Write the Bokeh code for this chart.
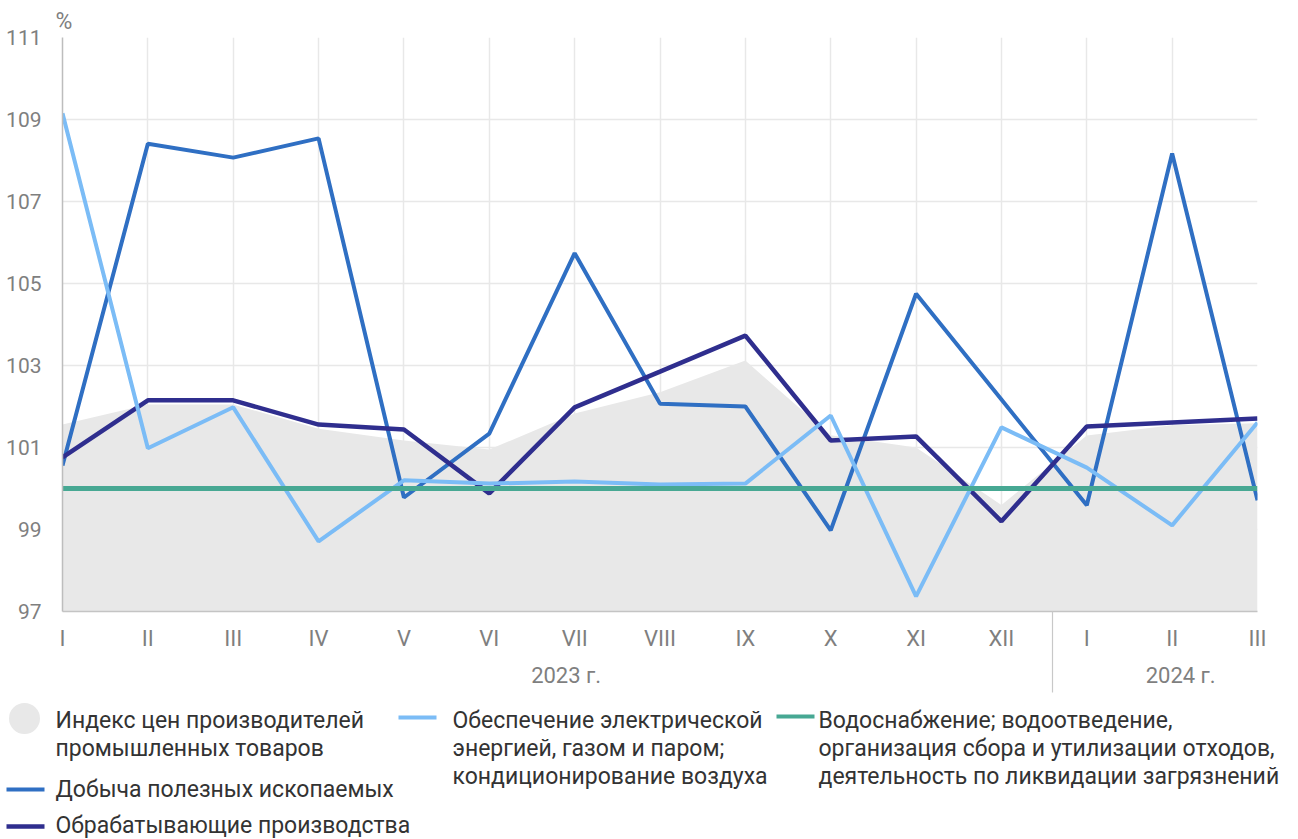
from bokeh.plotting import figure
from bokeh.models import Range1d, FixedTicker, LinearAxis
from bokeh.layouts import column
from bokeh.embed import file_html
from bokeh.resources import INLINE
from bokeh.core.properties import value

# ---------------- data ----------------
months = ["I", "II", "III", "IV", "V", "VI", "VII", "VIII", "IX", "X", "XI", "XII", "I", "II", "III"]
years = ["2023 г.", "2024 г."]
ppi = [101.56, 102.05, 102.05, 101.46, 101.17, 100.95, 101.83, 102.35, 103.12, 101.3, 101.0, 99.6, 101.29, 101.54, 101.59]
mining = [100.56, 108.41, 108.07, 108.54, 99.78, 101.34, 105.74, 102.07, 102.0, 98.98, 104.75, 102.17, 99.59, 108.17, 99.71]
manufacturing = [100.76, 102.15, 102.15, 101.56, 101.44, 99.88, 101.98, 102.85, 103.73, 101.17, 101.27, 99.2, 101.51, 101.61, 101.71]
electricity = [109.15, 100.98, 101.98, 98.71, 100.2, 100.12, 100.17, 100.1, 100.12, 101.78, 97.37, 101.49, 100.51, 99.1, 101.61]
water = [100.0, 100.0, 100.0, 100.0, 100.0, 100.0, 100.0, 100.0, 100.0, 100.0, 100.0, 100.0, 100.0, 100.0, 100.0]
y_ticks = [97, 99, 101, 103, 105, 107, 109, 111]
y_unit = "%"

legend_ppi = ["Индекс цен производителей", "промышленных товаров"]
legend_mining = ["Добыча полезных ископаемых"]
legend_manuf = ["Обрабатывающие производства"]
legend_elec = ["Обеспечение электрической", "энергией, газом и паром;", "кондиционирование воздуха"]
legend_water = ["Водоснабжение; водоотведение,", "организация сбора и утилизации отходов,", "деятельность по ликвидации загрязнений"]

# ---------------- styles ----------------
C_PPI = "#e8e8e8"
C_MIN = "#2f6fc3"
C_MAN = "#2f2e8e"
C_ELE = "#7bbcf6"
C_WAT = "#47a893"
FONT = "Roboto"
TICK_COLOR = "#7f7f7f"
TEXT_COLOR = "#333333"

xs = list(range(len(months)))

p = figure(width=1298, height=700, x_range=Range1d(0, len(months) - 1), y_range=Range1d(97, 111),
           toolbar_location=None, output_backend="svg",
           min_border_left=62, min_border_right=41, min_border_top=37, min_border_bottom=89)
p.frame_align = False
p.outline_line_color = None
p.background_fill_color = "white"

# unit label above the y axis (as title)
p.title.text = y_unit
p.title.align = "left"
p.title.offset = -7
p.title.standoff = 6
p.title.text_font = FONT
p.title.text_font_size = "23px"
p.title.text_font_style = "normal"
p.title.text_color = TICK_COLOR

p.varea(x=xs, y1=[97] * len(xs), y2=ppi, fill_color=C_PPI)
p.line(xs, mining, line_color=C_MIN, line_width=4)
p.line(xs, manufacturing, line_color=C_MAN, line_width=4.5)
p.line(xs, electricity, line_color=C_ELE, line_width=4)
p.line(xs, water, line_color=C_WAT, line_width=5)

# grids
p.xgrid.ticker = FixedTicker(ticks=xs)
p.ygrid.ticker = FixedTicker(ticks=y_ticks)
p.xgrid.grid_line_color = "#e8e8e8"
p.ygrid.grid_line_color = "#e8e8e8"
p.xgrid.grid_line_width = 1.5
p.ygrid.grid_line_width = 1.5
p.xgrid.level = "underlay"
p.ygrid.level = "underlay"

# y axis
ya = p.yaxis[0]
ya.ticker = FixedTicker(ticks=y_ticks)
ya.major_tick_line_color = None
ya.minor_tick_line_color = None
ya.axis_line_color = "#bdbdbd"
ya.axis_line_width = 1.5
ya.major_label_text_font = FONT
ya.major_label_text_font_size = "21px"
ya.major_label_text_color = TICK_COLOR
ya.major_label_standoff = 15

# x axis (months); the minor tick marks the boundary between the years
year_boundary = [11.6]
xa = p.xaxis[0]
xa.ticker = FixedTicker(ticks=xs, minor_ticks=year_boundary)
xa.major_label_overrides = {i: m for i, m in enumerate(months)}
xa.major_tick_line_color = None
xa.major_tick_out = 0
xa.major_tick_in = 0
xa.minor_tick_line_color = "#c8c8c8"
xa.minor_tick_line_width = 1.2
xa.minor_tick_out = 0
xa.minor_tick_in = -81
xa.axis_line_color = "#c4c4c4"
xa.axis_line_width = 1.5
xa.major_label_text_font = FONT
xa.major_label_text_font_size = "22px"
xa.major_label_text_color = TICK_COLOR
xa.major_label_standoff = 14

# year axis
year_pos = [5.9, 13.1]
ya2 = LinearAxis(ticker=FixedTicker(ticks=year_pos),
                 major_label_overrides={year_pos[0]: years[0], year_pos[1]: years[1]},
                 axis_line_color=None, major_tick_line_color=None, minor_tick_line_color=None,
                 major_tick_out=0, major_tick_in=0,
                 major_label_text_font=FONT, major_label_text_font_size="22px",
                 major_label_text_color=TICK_COLOR, major_label_standoff=9)
p.add_layout(ya2, "below")

# ---------------- legend figure ----------------
leg = figure(width=1298, height=139, x_range=Range1d(0, 1298), y_range=Range1d(839, 700),
             toolbar_location=None, output_backend="svg",
             min_border_left=0, min_border_right=0, min_border_top=0, min_border_bottom=0)
leg.frame_align = False
leg.xaxis.visible = False
leg.yaxis.visible = False
leg.grid.visible = False
leg.outline_line_color = None

leg.scatter(x=[24], y=[718], size=31, fill_color=C_PPI, line_color=None)
leg.segment(x0=[6], y0=[789], x1=[44], y1=[789], line_color=C_MIN, line_width=4)
leg.segment(x0=[6], y0=[826], x1=[44], y1=[826], line_color=C_MAN, line_width=4.5)
leg.segment(x0=[398], y0=[717], x1=[436], y1=[717], line_color=C_ELE, line_width=4)
leg.segment(x0=[776], y0=[716], x1=[814], y1=[716], line_color=C_WAT, line_width=4)

def add_text(x, ys, lines):
    leg.text(x=[x] * len(lines), y=ys[:len(lines)], text=lines, text_font=value(FONT),
             text_font_size=value("23px"), text_color=TEXT_COLOR,
             text_baseline="middle", text_align="left")

add_text(55, [720, 748], legend_ppi)
add_text(55, [789], legend_mining)
add_text(55, [825], legend_manuf)
add_text(452, [720, 748, 776], legend_elec)
add_text(818, [720, 748, 776], legend_water)

layout = column(p, leg, spacing=0)
open("out.html", "w").write(file_html(layout, INLINE))
